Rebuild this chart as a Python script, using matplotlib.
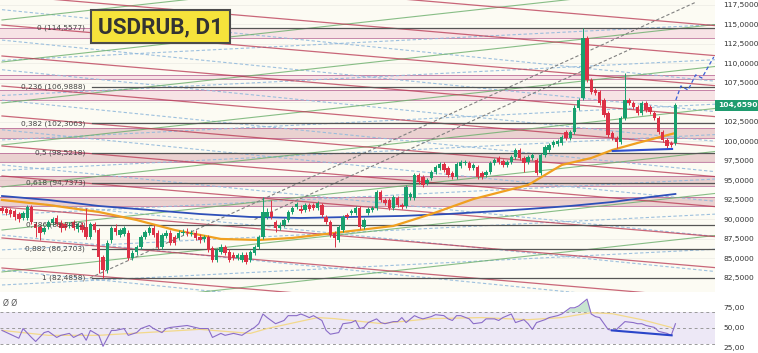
import matplotlib.pyplot as plt
from matplotlib.patches import Rectangle

# --- daily candles (price, RUB) ---
opens = [91.47, 91.34, 91.22, 91.09, 90.70, 90.19, 90.19, 91.60, 89.42, 89.04,
         88.40, 89.04, 89.55, 90.19, 89.55, 89.42, 89.17, 89.68, 88.78, 89.29,
         89.04, 87.76, 89.42, 88.65, 85.19, 83.52, 87.37, 88.91, 88.01, 88.14,
         88.27, 85.06, 85.83, 86.47, 87.76, 88.27, 88.91, 88.27, 86.47, 87.88,
         88.27, 87.76, 87.63, 88.27, 88.40, 88.14, 88.27, 87.76, 87.50, 87.76,
         86.34, 84.81, 85.83, 86.47, 85.83, 85.45, 85.06, 84.81, 85.45, 84.81,
         85.70, 86.47, 87.76, 90.32, 90.96, 89.68, 88.91, 89.29, 89.93, 90.96,
         91.60, 91.34, 91.22, 91.86, 91.86, 91.47, 91.86, 90.32, 89.68, 88.27,
         87.37, 88.65, 90.57, 90.83, 90.83, 91.47, 89.04, 90.83, 91.22, 91.47,
         93.52, 92.50, 92.50, 91.47, 92.75, 91.86, 91.73, 92.88, 92.75, 95.70,
         95.45, 94.68, 95.32, 96.09, 96.60, 97.11, 96.60, 95.96, 95.45, 96.86,
         97.24, 97.24, 96.60, 96.73, 95.96, 95.70, 96.09, 97.24, 97.88, 97.50,
         96.99, 97.37, 98.01, 98.91, 97.88, 97.37, 97.88, 97.63, 95.96, 98.27,
         98.91, 99.55, 99.68, 99.81, 101.22, 100.45, 101.22, 104.29, 105.58, 113.27,
         107.88, 106.60, 106.35, 105.32, 103.65, 101.09, 100.45, 99.93, 103.01, 105.32,
         104.93, 104.42, 103.65, 104.93, 104.42, 103.65, 103.01, 101.22, 100.19, 99.81,
         99.81]
highs = [91.73, 91.60, 91.47, 91.34, 90.96, 91.09, 91.86, 91.86, 89.68, 89.29,
         89.17, 89.93, 90.32, 90.57, 89.93, 89.68, 89.68, 89.93, 89.68, 89.68,
         91.47, 89.68, 89.68, 88.91, 85.45, 87.37, 89.17, 89.42, 88.91, 89.17,
         88.65, 86.09, 86.73, 88.01, 88.65, 89.17, 89.29, 88.65, 88.27, 88.65,
         88.65, 88.01, 88.65, 88.78, 88.91, 88.65, 88.65, 88.14, 88.01, 88.01,
         86.60, 86.34, 86.86, 86.73, 86.22, 85.83, 85.70, 85.83, 85.83, 86.09,
         86.73, 88.01, 92.88, 91.47, 92.50, 89.93, 89.68, 90.19, 91.22, 91.73,
         92.24, 91.86, 92.12, 92.12, 92.12, 92.37, 92.12, 90.57, 89.93, 88.52,
         89.29, 90.57, 90.83, 91.34, 91.73, 91.73, 90.19, 91.60, 91.73, 93.78,
         93.78, 92.75, 92.75, 93.14, 93.01, 92.12, 94.42, 93.52, 95.96, 95.96,
         95.70, 95.32, 96.34, 96.99, 97.37, 97.37, 96.86, 96.22, 97.37, 97.63,
         97.63, 97.50, 97.24, 96.99, 96.22, 96.34, 97.50, 97.88, 98.14, 97.76,
         97.63, 98.27, 99.17, 99.17, 98.14, 98.27, 98.53, 97.88, 98.53, 99.55,
         99.81, 100.19, 100.32, 100.83, 101.47, 101.47, 104.68, 105.58, 114.56, 113.53,
         108.14, 106.86, 106.60, 105.58, 103.91, 101.34, 100.70, 103.27, 108.78, 105.58,
         105.19, 104.68, 105.19, 105.19, 104.68, 103.91, 103.27, 101.47, 100.45, 100.06,
         104.93]
lows = [90.83, 90.57, 90.32, 89.93, 89.68, 89.93, 89.93, 89.42, 87.76, 87.37,
        88.14, 88.78, 89.29, 89.17, 88.40, 88.65, 88.91, 88.65, 88.40, 88.40,
        87.50, 87.50, 88.40, 83.14, 82.49, 83.14, 86.98, 88.01, 87.76, 87.88,
        84.81, 84.81, 85.45, 86.22, 87.50, 88.01, 87.76, 86.22, 86.22, 87.63,
        86.73, 86.73, 87.37, 88.01, 87.88, 87.88, 87.37, 86.98, 87.11, 85.83,
        84.55, 84.55, 85.58, 85.45, 84.55, 84.81, 84.81, 84.55, 84.29, 84.55,
        85.45, 86.22, 87.50, 90.06, 90.06, 88.40, 88.65, 89.04, 89.68, 90.70,
        91.34, 90.83, 90.96, 91.09, 91.22, 91.22, 90.32, 89.42, 87.76, 86.47,
        87.11, 88.40, 90.06, 90.57, 90.57, 88.78, 88.78, 90.57, 90.96, 91.22,
        92.24, 91.86, 91.22, 91.22, 91.60, 91.34, 91.47, 92.50, 92.50, 94.55,
        94.17, 94.42, 95.06, 95.83, 96.34, 96.09, 95.45, 95.19, 95.19, 96.60,
        96.99, 96.34, 96.34, 95.19, 95.19, 95.45, 95.83, 96.99, 97.11, 96.73,
        96.73, 97.11, 97.76, 97.63, 96.09, 97.11, 97.63, 95.70, 95.70, 98.01,
        98.65, 99.29, 99.42, 99.55, 100.19, 100.19, 100.96, 104.04, 105.32, 107.63,
        106.09, 105.96, 104.68, 103.14, 100.58, 100.19, 99.17, 99.68, 102.76, 104.68,
        104.17, 103.40, 103.40, 103.78, 103.53, 102.76, 100.96, 99.93, 99.17, 99.29,
        99.55]
closes = [91.09, 90.83, 90.70, 90.32, 90.06, 90.83, 91.60, 89.68, 88.91, 88.27,
          88.91, 89.68, 90.06, 89.42, 88.91, 88.91, 89.29, 88.91, 89.42, 88.65,
          87.76, 89.42, 88.65, 85.19, 83.52, 86.98, 88.91, 88.40, 88.65, 88.91,
          85.06, 85.70, 86.47, 87.76, 88.40, 88.91, 88.01, 86.47, 88.01, 88.27,
          86.98, 86.98, 88.27, 88.40, 88.27, 88.27, 87.63, 87.37, 87.76, 86.09,
          84.81, 86.09, 86.47, 85.70, 84.81, 85.06, 85.45, 85.45, 84.55, 85.83,
          86.47, 87.76, 90.96, 90.96, 90.32, 88.91, 89.29, 89.93, 90.96, 91.47,
          91.99, 91.09, 91.86, 91.34, 91.47, 92.12, 90.57, 89.68, 88.01, 87.63,
          89.04, 90.32, 90.32, 91.09, 91.47, 89.04, 89.93, 91.34, 91.47, 93.52,
          92.50, 92.12, 91.47, 92.88, 91.86, 91.60, 94.17, 93.27, 95.70, 94.81,
          94.42, 95.06, 96.09, 96.73, 97.11, 96.34, 95.70, 95.45, 97.11, 97.37,
          97.37, 96.60, 96.99, 95.45, 95.45, 96.09, 97.24, 97.63, 97.37, 96.99,
          97.37, 98.01, 98.91, 97.88, 97.24, 98.01, 98.27, 95.96, 98.27, 99.29,
          99.55, 99.93, 100.06, 100.58, 100.45, 101.22, 104.29, 105.32, 113.27, 107.88,
          106.35, 106.22, 104.93, 103.40, 100.83, 100.45, 99.93, 103.01, 105.32, 104.93,
          104.42, 103.65, 104.93, 104.04, 103.78, 103.01, 101.22, 100.19, 99.42, 99.55,
          104.66]
last_price = 104.659

# moving averages, read at a few candles
ma50_idx = [0, 11, 23, 32, 41, 52, 61, 69, 81, 93, 102, 112, 125, 133, 140, 145, 151, 160]
ma50_val = [92.50, 91.86, 90.96, 89.93, 88.65, 87.50, 87.37, 87.63, 88.40, 89.17,
            90.70, 92.62, 94.42, 96.99, 97.88, 98.91, 99.81, 101.09]
ma200_idx = [0, 11, 23, 35, 47, 59, 71, 83, 95, 106, 118, 125, 135, 145, 154, 160]
ma200_val = [93.01, 92.50, 91.73, 91.22, 90.70, 90.32, 90.19, 90.32, 90.45, 90.70,
             91.09, 91.34, 91.73, 92.24, 92.88, 93.27]

# fibonacci retracement
fib_ratios = ["0", "0,236", "0,382", "0,5", "0,618", "0,786", "0,882", "1"]
fib_prices = [114.5577, 106.9888, 102.3063, 98.5218, 94.7373, 89.3492, 86.2703, 82.4858]

# shaded price zones (low, high)
zone_lo = [113.27, 108.01, 105.32, 100.45, 97.37, 94.30, 91.73]
zone_hi = [114.55, 108.53, 106.60, 101.73, 98.53, 95.58, 92.88]

# trend channels: price at candle 0 and at candle 170
red_start = [122.63, 118.78, 114.93, 110.96, 107.11, 103.27, 99.42, 95.58, 91.60, 87.63, 83.78, 79.94]
red_end = [114.83, 110.98, 107.13, 103.16, 99.31, 95.47, 91.62, 87.78, 83.80, 79.83, 75.98, 72.14]
green_start = [115.58, 110.19, 104.93, 99.55, 94.17, 88.65, 83.27, 77.88]
green_end = [125.68, 120.29, 115.03, 109.65, 104.27, 98.75, 93.37, 87.98]
dash_dn_start = [116.9, 113.0, 109.2, 105.3, 101.5, 97.0, 92.5, 88.0, 83.5]
dash_dn_end = [107.7, 103.8, 100.0, 96.1, 92.3, 87.8, 83.3, 78.8, 74.3]
dash_up_start = [110.4, 105.9, 100.2, 96.3, 90.6, 86.1, 81.6]
dash_up_end = [115.0, 110.5, 104.8, 100.9, 95.2, 90.7, 86.2]

# RSI(14) and its average, read at a few candles
rsi_idx = [0, 4, 5, 7, 8, 10, 11, 13, 14, 16, 17, 19, 20, 21, 23, 24, 26, 27, 29, 30,
           32, 33, 35, 36, 38, 39, 40, 42, 44, 47, 49, 50, 52, 53, 55, 57, 58, 60, 61, 62,
           63, 65, 67, 68, 70, 71, 72, 73, 74, 76, 77, 78, 80, 81, 83, 84, 85, 86, 87, 89,
           90, 91, 93, 94, 95, 96, 98, 99, 100, 102, 103, 105, 106, 107, 108, 109, 111, 112, 114, 115,
           117, 118, 119, 121, 122, 124, 125, 126, 127, 129, 130, 132, 133, 135, 136, 137, 139, 140, 141, 142,
           144, 145, 146, 148, 150, 151, 152, 153, 155, 156, 158, 159, 160]
rsi_val = [46.7, 37, 49, 38, 33, 44, 45.5, 38, 40.6, 43, 38, 43, 34.5, 46.7, 40.6, 27, 46.7, 46.7, 49, 40.6,
           44, 49, 52.8, 49, 44, 49, 50.4, 51.6, 52.8, 49, 49, 38, 43, 40.6, 43, 40.6, 44, 50.4, 55, 67,
           62.6, 55, 59, 65, 65, 67, 65, 62.6, 65, 59, 46.7, 42, 44, 55, 56.4, 59, 49, 50.4, 56.4, 61,
           56.4, 55, 57.6, 57.6, 62.6, 56.4, 65, 62.6, 61, 63.8, 66.2, 65, 61, 59, 65, 65, 61, 55, 56.4, 61,
           61, 59, 62.6, 67, 56.4, 60, 55, 47.9, 56.4, 60, 62.6, 65, 67, 74.7, 74.7, 77, 85.5, 67, 63.8, 62.6,
           47.9, 46.7, 47.9, 57.6, 56.4, 55, 55, 52.8, 50.4, 45.5, 43, 40.6, 55]
rsi_ma_idx = [0, 11, 23, 35, 47, 59, 63, 75, 79, 90, 102, 114, 125, 133, 140, 145, 152, 159]
rsi_ma_val = [46.7, 40.6, 40.6, 44.3, 48, 43, 49, 62.6, 61.3, 55.2, 61.3, 62.6, 60, 62.6,
              68.7, 67.4, 60, 50.4]

# --- figure ---
W, H = 758, 353
fig = plt.figure(figsize=(W / 100, H / 100), dpi=100)
fig.patch.set_facecolor("white")
ax = fig.add_axes([0, 1 - 292 / H, 715 / W, 292 / H])
rx = fig.add_axes([0, 0, 715 / W, 61 / H])

x_lo, x_hi = -0.475, 169.4
ax.set_xlim(x_lo, x_hi)
ax.set_ylim(80.70, 118.14)
ax.set_facecolor("#fcfbf3")

# grid
for p in [82.5 + 2.5 * k for k in range(15)]:
    ax.axhline(p, color="#eeede6", lw=0.6, zorder=0)

# zones
for lo, hi in zip(zone_lo, zone_hi):
    dark = hi < 102
    ax.axhspan(lo, hi, color="#d9a9ae" if dark else "#f2c6d4", alpha=0.5 if dark else 0.45, lw=0, zorder=0.5)
    ax.axhline(lo, color="#b0588c", lw=0.7, alpha=0.7, zorder=0.6)
    ax.axhline(hi, color="#b0588c", lw=0.7, alpha=0.7, zorder=0.6)

# channel lines
xs = [0, 170]
for a, b in zip(dash_dn_start, dash_dn_end):
    ax.plot(xs, [a, b], color="#93badc", lw=0.8, ls=(0, (3, 2)), alpha=0.9, zorder=0.8)
for a, b in zip(dash_up_start, dash_up_end):
    ax.plot(xs, [a, b], color="#93badc", lw=0.8, ls=(0, (3, 2)), alpha=0.9, zorder=0.8)
for a, b in zip(green_start, green_end):
    ax.plot(xs, [a, b], color="#6aae6a", lw=0.8, alpha=0.8, zorder=0.9)
for a, b in zip(red_start, red_end):
    ax.plot(xs, [a, b], color="#b8344f", lw=0.9, alpha=0.75, zorder=0.9)

# steep gray dashed lines
ax.plot([20.9, 165], [82.50, 117.9], color="#808080", lw=0.8, ls=(0, (3, 2)), zorder=0.9)
ax.plot([60, 150], [90.0, 112.0], color="#808080", lw=0.8, ls=(0, (3, 2)), zorder=0.9)

# fibonacci levels
for r, p in zip(fib_ratios, fib_prices):
    ax.axhline(p, xmin=92 / 715, xmax=1, color="#555555", lw=0.9, zorder=1)
    ax.text(19.8, p, f"{r} ({p:.4f})".replace(".", ","), ha="right", va="center",
            fontsize=5.3, color="#444444", zorder=5)

# moving averages
ax.plot(ma200_idx, ma200_val, color="#2d4fb8", lw=1.3, zorder=2)
ax.plot(ma50_idx, ma50_val, color="#f0a020", lw=1.6, zorder=2)

# candles
idx = list(range(len(closes)))
cols = ["#18a06e" if c >= o else "#dd3146" for o, c in zip(opens, closes)]
ax.vlines(idx, lows, highs, colors=cols, lw=0.7, zorder=3)
ax.bar(idx, [c - o for o, c in zip(opens, closes)], bottom=opens, width=0.8,
       color=cols, lw=0, zorder=3)

# support line under the last lows and projected path
ax.plot([145.1, 159.2], [98.78, 99.04], color="#2f4fd0", lw=1.5, zorder=4)
ax.plot([160.1, 161.3, 163, 164.8, 166.3, 169.1], [105.32, 107.12, 106.60, 108.53, 108.14, 110.83],
        color="#3a5fd6", lw=0.9, ls=(0, (3, 2)), zorder=4)

# price axis on the right
ticks = [82.5 + 2.5 * k for k in range(15) if 82.5 + 2.5 * k != 105.0]
ax.yaxis.tick_right()
ax.set_yticks(ticks)
ax.set_yticklabels([f"{t:.4f}".replace(".", ",") for t in ticks], fontsize=5.4, color="#333333")
ax.tick_params(axis="y", length=0, pad=6)
ax.set_xticks([])
for s in ax.spines.values():
    s.set_visible(False)
ax.text(1.004, last_price, f"{last_price:.4f}".replace(".", ","), transform=ax.get_yaxis_transform(),
        ha="left", va="center", fontsize=5.4, color="white", fontweight="bold", zorder=10, clip_on=False,
        bbox=dict(boxstyle="square,pad=0.35", fc="#1f9c6f", ec="none"))

# title box
ax.add_patch(Rectangle((91 / W, 1 - 43 / H), 139 / W, 33 / H, transform=fig.transFigure,
                       fc="#f6e33b", ec="#4b4b4b", lw=1.5, zorder=20, clip_on=False))
fig.text(161 / W, 1 - 27 / H, "USDRUB, D1", ha="center", va="center", fontsize=16.2,
         fontweight="bold", family="Roboto", color="#333333", zorder=21)

# --- RSI panel ---
rx.set_xlim(x_lo, x_hi)
rx.set_ylim(18.7, 94.3)
rx.axhspan(30, 70, color="#ede8f6", lw=0, zorder=0)
for lvl in (70, 50, 30):
    rx.axhline(lvl, color="#9a9a9a", lw=0.7, ls=(0, (3, 3)), zorder=1)
rx.plot(rsi_ma_idx, rsi_ma_val, color="#f3d98b", lw=0.9, zorder=2)
rx.fill_between(rsi_idx, 70, rsi_val, where=[v > 70 for v in rsi_val], interpolate=True,
                color="#b9dfc4", alpha=0.8, lw=0, zorder=2)
rx.plot(rsi_idx, rsi_val, color="#8a6cc8", lw=0.8, zorder=3)
rx.plot([144.9, 159.1], [46.7, 40.6], color="#2a45c9", lw=1.5, zorder=4)
rx.yaxis.tick_right()
rx.set_yticks([25, 50, 75])
rx.set_yticklabels(["25,00", "50,00", "75,00"], fontsize=5.4, color="#333333")
rx.tick_params(axis="y", length=0, pad=6)
rx.set_xticks([])
for s in rx.spines.values():
    s.set_visible(False)
rx.text(0.004, 0.82, "Ø Ø", transform=rx.transAxes, fontsize=5.5, color="#555555", va="center")

fig.savefig("out.png", dpi=100)
